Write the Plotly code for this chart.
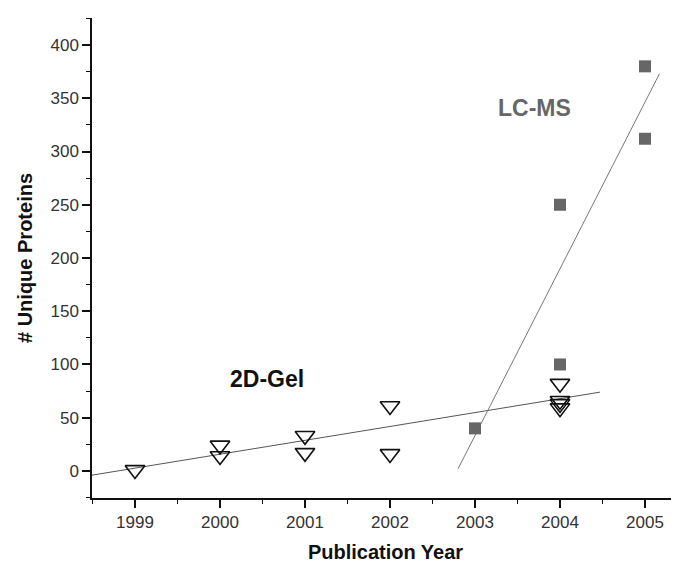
import plotly.graph_objects as go

# 2D-Gel data (open down triangles)
gel_years = [1999, 2000, 2000, 2001, 2001, 2002, 2002, 2004, 2004, 2004, 2004]
gel_proteins = [1, 24, 14, 33, 17, 61, 16, 82, 66, 63, 59]

# LC-MS data (filled squares)
lcms_years = [2003, 2004, 2004, 2005, 2005]
lcms_proteins = [40, 100, 250, 312, 380]

# Trend lines (endpoints)
gel_fit_x = [1998.49, 2004.47]
gel_fit_y = [-4, 74]
lcms_fit_x = [2002.8, 2005.17]
lcms_fit_y = [2, 373]

x_ticks = [1999, 2000, 2001, 2002, 2003, 2004, 2005]
y_ticks = [0, 50, 100, 150, 200, 250, 300, 350, 400]

fig = go.Figure()
fig.add_trace(go.Scatter(x=gel_fit_x, y=gel_fit_y, mode="lines",
                         line=dict(color="#555555", width=1), showlegend=False))
fig.add_trace(go.Scatter(x=lcms_fit_x, y=lcms_fit_y, mode="lines",
                         line=dict(color="#777777", width=1), showlegend=False))
fig.add_trace(go.Scatter(x=gel_years, y=gel_proteins, mode="markers",
                         marker=dict(symbol="triangle-down-open", size=17,
                                     color="#111111", line=dict(width=1.6, color="#111111")),
                         showlegend=False))
fig.add_trace(go.Scatter(x=lcms_years, y=lcms_proteins, mode="markers",
                         marker=dict(symbol="square", size=12, color="#666666",
                                     line=dict(width=0)),
                         showlegend=False))

fig.add_annotation(x=2000.55, y=86, text="<b>2D-Gel</b>", showarrow=False,
                   font=dict(family="Liberation Sans, Arial", size=23, color="#111111"))
fig.add_annotation(x=2003.7, y=341, text="<b>LC-MS</b>", showarrow=False,
                   font=dict(family="Liberation Sans, Arial", size=23, color="#666666"))

fig.update_layout(
    width=671, height=558,
    margin=dict(l=84, r=0, t=10, b=68),
    paper_bgcolor="white", plot_bgcolor="white",
    font=dict(family="Liberation Sans, Arial", size=17, color="#333333"),
    xaxis=dict(range=[1998.494, 2005.40], tickvals=x_ticks, ticktext=[str(v) for v in x_ticks],
               showgrid=False, zeroline=False, showline=True, linecolor="#111111", linewidth=1.5,
               ticks="outside", ticklen=8, tickwidth=1.5, tickcolor="#111111",
               minor=dict(tickvals=[1998.5, 1999.5, 2000.5, 2001.5, 2002.5, 2003.5, 2004.5, 2005.5],
                          ticks="outside", ticklen=4, tickwidth=1.2, tickcolor="#111111"),
               title=dict(text="<b>Publication Year</b>", font=dict(size=20, color="#111111"), standoff=14)),
    yaxis=dict(range=[-25.4, 425.4], tickvals=y_ticks, showgrid=False, zeroline=False,
               showline=True, linecolor="#111111", linewidth=1.5,
               ticks="outside", ticklen=8, tickwidth=1.5, tickcolor="#111111",
               minor=dict(dtick=25, tick0=0, ticks="outside", ticklen=4, tickwidth=1.2, tickcolor="#111111"),
               title=dict(text="<b># Unique Proteins</b>", font=dict(size=20, color="#111111"), standoff=12)),
)

fig.write_html("out.html")
